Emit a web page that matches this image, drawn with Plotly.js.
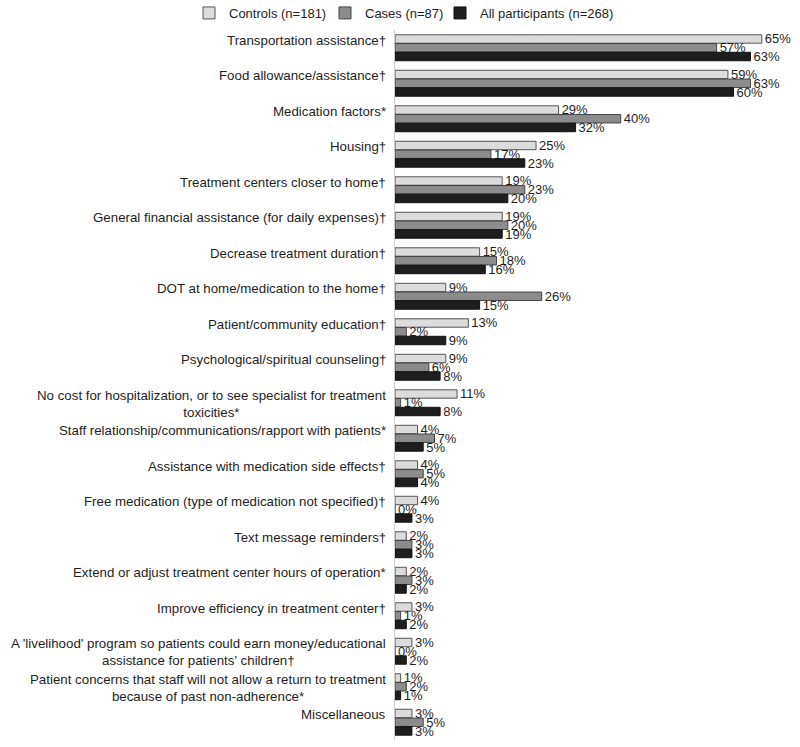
<!DOCTYPE html>
<html>
<head>
<meta charset="utf-8">
<script src="https://cdn.plot.ly/plotly-3.0.1.min.js"></script>
<style>
  body { margin: 0; background: #fff; }
  #plot { width: 800px; height: 747px; }
</style>
</head>
<body>
<div id="plot"></div>
<script>
let plot = document.getElementById('plot');

let categories = [
    'Transportation assistance†',
    'Food allowance/assistance†',
    'Medication factors*',
    'Housing†',
    'Treatment centers closer to home†',
    'General financial assistance (for daily expenses)†',
    'Decrease treatment duration†',
    'DOT at home/medication to the home†',
    'Patient/community education†',
    'Psychological/spiritual counseling†',
    'No cost for hospitalization, or to see specialist for treatment<br>toxicities*',
    'Staff relationship/communications/rapport with patients*',
    'Assistance with medication side effects†',
    'Free medication (type of medication not specified)†',
    'Text message reminders†',
    'Extend or adjust treatment center hours of operation*',
    'Improve efficiency in treatment center†',
    "A 'livelihood' program so patients could earn money/educational<br>assistance for patients' children†",
    'Patient concerns that staff will not allow a return to treatment<br>because of past non-adherence*',
    'Miscellaneous'
];

let controls = [65, 59, 29, 25, 19, 19, 15, 9, 13, 9, 11, 4, 4, 4, 2, 2, 3, 3, 1, 3];
let cases = [57, 63, 40, 17, 23, 20, 18, 26, 2, 6, 1, 7, 5, 0, 3, 3, 1, 0, 2, 5];
let allParticipants = [63, 60, 32, 23, 20, 19, 16, 15, 9, 8, 8, 5, 4, 3, 3, 2, 2, 2, 1, 3];

let seriesNames = ['Controls (n=181)', 'Cases (n=87)', 'All participants (n=268)'];

const FONT = '"Liberation Sans", Arial, sans-serif';
const INK = '#1e1e1e';

const makeTrace = (values, name, fill, border, legendId) => ({
    type: 'bar',
    orientation: 'h',
    x: values,
    y: categories,
    name: name,
    legend: legendId,
    marker: { color: fill, line: { color: border, width: 1 } },
    texttemplate: '%{x}%',
    textposition: 'outside',
    constraintext: 'none',
    cliponaxis: false,
    textfont: { family: FONT, size: 13, color: INK },
    hoverinfo: 'x+name'
});

let traces = [
    makeTrace(controls, seriesNames[0], '#dcdcdc', '#555', 'legend'),
    makeTrace(cases, seriesNames[1], '#8c8c8c', '#444', 'legend2'),
    makeTrace(allParticipants, seriesNames[2], '#1e1e1e', '#111', 'legend3')
];

// one legend per series so the row keeps the reference spacing
const legendAt = (px) => ({
    orientation: 'h',
    xref: 'container', yref: 'container',
    x: px / 800, xanchor: 'left',
    y: 1 - 13 / 747, yanchor: 'middle',
    bgcolor: 'rgba(0,0,0,0)',
    font: { family: FONT, size: 13, color: INK },
    itemwidth: 30
});

// category labels drawn as annotations so two-line labels stay centred
let labelNotes = categories.map(c => ({
    xref: 'paper', yref: 'y',
    x: 0, y: c,
    xanchor: 'right', yanchor: 'top',
    xshift: -7, yshift: 17,
    align: 'center',
    showarrow: false,
    text: c,
    font: { family: FONT, size: 13.3, color: INK }
}));

let layout = {
    width: 800,
    height: 747,
    margin: { l: 395, r: 10, t: 30, b: 7 },
    paper_bgcolor: '#fff',
    plot_bgcolor: '#fff',
    font: { family: FONT, size: 13, color: INK },
    barmode: 'group',
    bargap: 0.26,
    bargroupgap: 0.04,
    showlegend: true,
    legend: legendAt(189),
    legend2: legendAt(325),
    legend3: legendAt(440),
    xaxis: {
        range: [0, 70],
        visible: false,
        showgrid: false,
        zeroline: false
    },
    yaxis: {
        type: 'category',
        autorange: 'reversed',
        showticklabels: false,
        ticks: '',
        showgrid: false,
        zeroline: false,
        showline: true,
        linecolor: '#cfcfcf',
        linewidth: 1
    },
    annotations: labelNotes
};

Plotly.newPlot(plot, traces, layout, { displayModeBar: false, staticPlot: true });
</script>
</body>
</html>
